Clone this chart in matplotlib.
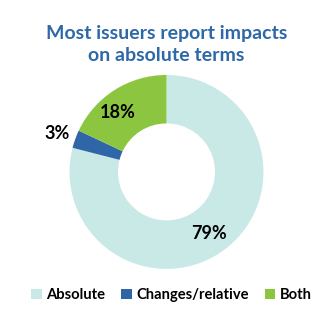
import matplotlib.pyplot as plt
from matplotlib.patches import Patch

categories = ["Absolute", "Changes/relative", "Both"]
shares = [79, 3, 18]
colors = ["#C9E9E6", "#2E66A8", "#8CC640"]

plt.rcParams['font.family'] = ['Lato', 'DejaVu Sans']

fig = plt.figure(figsize=(3.33, 3.25), dpi=100)
ax = fig.add_axes([0.136, 0.098, 0.728, 0.746])
ax.pie(shares, colors=colors, startangle=90, counterclock=False,
       wedgeprops=dict(width=0.5, linewidth=0))
ax.set_xlim(-1.25, 1.25)
ax.set_ylim(-1.25, 1.25)
ax.set_aspect('equal')

# percentage labels
lab = dict(ha='center', va='center', fontsize=13, fontweight='bold', color='black')
ax.text(0.44, -0.63, f"{shares[0]}%", **lab)
ax.text(-0.5, 0.61, f"{shares[2]}%", **lab)
ax.text(-1.13, 0.40, f"{shares[1]}%", **lab)

fig.text(0.5, 0.862, "Most issuers report impacts\non absolute terms",
         ha='center', va='center', fontsize=14, fontweight='bold',
         color='#2E68A8', linespacing=1.35)

handles = [Patch(facecolor=c, edgecolor='none') for c in colors]
fig.legend(handles, categories, loc='center', bbox_to_anchor=(0.515, 0.092),
           ncol=3, frameon=False, prop=dict(weight='bold', size=10.6),
           handlelength=0.7, handleheight=0.7, handletextpad=0.3,
           columnspacing=1.1)

fig.savefig("out.png", dpi=100)
